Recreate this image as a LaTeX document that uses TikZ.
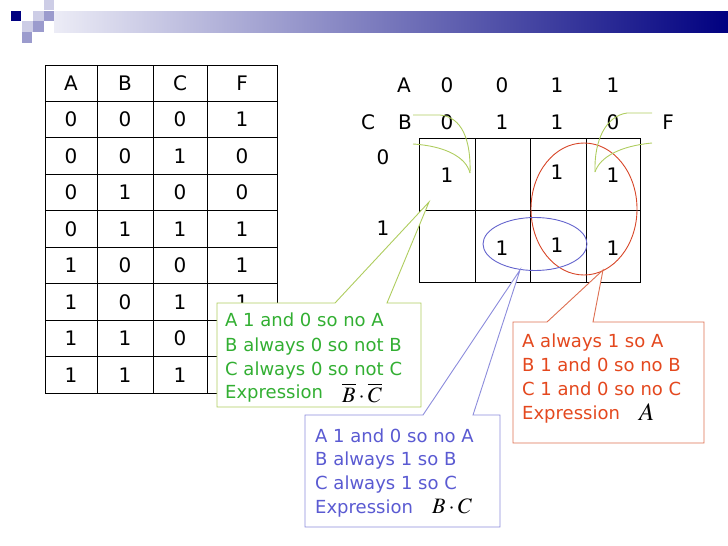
\documentclass[tikz,border=0pt]{standalone}
\usepackage{mathptmx}
\usepackage{fontspec}
\setmainfont{DejaVu Sans}
\definecolor{gtext}{RGB}{50,175,50}
\definecolor{gborder}{RGB}{175,205,95}
\definecolor{btext}{RGB}{90,90,210}
\definecolor{bborder}{RGB}{140,140,220}
\definecolor{rtext}{RGB}{228,72,30}
\definecolor{rborder}{RGB}{222,112,82}
\definecolor{rell}{RGB}{215,70,40}
\definecolor{bell}{RGB}{100,100,205}
\definecolor{navyb}{RGB}{0,0,128}
\definecolor{sqlight}{RGB}{205,205,230}
\definecolor{sqmed}{RGB}{155,155,205}
\definecolor{barlight}{RGB}{236,236,246}
\begin{document}
\begin{tikzpicture}[x=1pt,y=-1pt,
  big/.style={font=\fontsize{20}{24}\selectfont,inner sep=0pt,anchor=center},
  note/.style={font=\fontsize{18}{24}\selectfont,inner sep=0pt,anchor=base west},
  mth/.style={font=\fontsize{22}{24}\selectfont,inner sep=0pt,anchor=base west,text height=14pt,text depth=0pt},
  grid/.style={draw=black,line width=0.9pt},
  gcurve/.style={draw=gborder,line width=0.9pt},
  callout/.style={fill=white,line width=0.9pt,line join=miter}]
\useasboundingbox (0,0) rectangle (728,546);
% header decoration
\shade[left color=barlight,right color=navyb] (54,11) rectangle (728,32);
\fill[sqlight] (44,0) rectangle (54,10);
\fill[navyb] (11,11) rectangle (21,21);
\fill[sqlight] (33,11) rectangle (44,21);
\fill[sqmed] (44,11) rectangle (54,21);
\fill[sqlight] (22,21) rectangle (33,32);
\fill[sqmed] (33,21) rectangle (44,32);
\fill[sqmed] (22,32) rectangle (32,43);
% truth table
\draw[grid] (45,65) rectangle (277,393);
\foreach \xx in {97,153,207} \draw[grid] (\xx,65) -- (\xx,393);
\foreach \i in {1,...,8} \draw[grid] (45,{65+36.44*\i}) -- (277,{65+36.44*\i});
\foreach \r/\a/\b/\c/\f in {0/A/B/C/F,1/0/0/0/1,2/0/0/1/0,3/0/1/0/0,4/0/1/1/1,5/1/0/0/1,6/1/0/1/1}{
  \node[big] (ta\r) at (71,{83.2+36.44*\r}) {\a};
  \node[big] (tb\r) at (125,{83.2+36.44*\r}) {\b};
  \node[big] (tc\r) at (180,{83.2+36.44*\r}) {\c};
  \node[big] (tf\r) at (242,{83.2+36.44*\r}) {\f};
}
\foreach \r/\a/\b/\c in {7/1/1/0,8/1/1/1}{
  \node[big] (ta\r) at (71,{83.2+36.44*\r}) {\a};
  \node[big] (tb\r) at (125,{83.2+36.44*\r}) {\b};
  \node[big] (tc\r) at (180,{83.2+36.44*\r}) {\c};
}
% K-map
\draw[grid] (419,138) rectangle (640,282);
\foreach \xx in {475,530,586} \draw[grid] (\xx,138) -- (\xx,282);
\draw[grid] (419,210) -- (640,210);
\node[big] (hA) at (404,85) {A};
\node[big] (a1) at (447,85) {0};
\node[big] (a2) at (502,85) {0};
\node[big] (a3) at (557,85) {1};
\node[big] (a4) at (613,85) {1};
\node[big] (hC) at (368,122) {C};
\node[big] (hB) at (405,122) {B};
\node[big] (b1) at (447,122) {0};
\node[big] (b2) at (502,122) {1};
\node[big] (b3) at (557,122) {1};
\node[big] (b4) at (613,122) {0};
\node[big] (hF) at (668,122) {F};
\node[big] (c0) at (383,157) {0};
\node[big] (c1) at (383,228) {1};
\node[big] (k1) at (447,175) {1};
\node[big] (k2) at (557,172) {1};
\node[big] (k3) at (613,175) {1};
\node[big] (k4) at (502,248) {1};
\node[big] (k5) at (557,245) {1};
\node[big] (k6) at (613,248) {1};
% groups
\draw[rell,line width=0.9pt] (584,209) ellipse [x radius=53pt,y radius=66pt];
\draw[bell,line width=0.9pt] (535,244) ellipse [x radius=52pt,y radius=26.5pt];
% green curved pointers
\coordinate (lt) at (470,173);
\coordinate (rt) at (595,172);
\draw[gcurve] (413,115) -- (440,115) .. controls (462,117) and (471,140) .. (lt);
\draw[gcurve] (413,144) .. controls (445,146) and (466,157) .. (lt);
\draw[gcurve] (652,113) -- (627,113) .. controls (606,116) and (594,140) .. (rt);
\draw[gcurve] (652,143) .. controls (620,146) and (600,157) .. (rt);
% callouts
\coordinate (gtip) at (429,202);
\coordinate (btip) at (520,270);
\coordinate (rtip) at (603,270);
\draw[callout,draw=gborder] (217,303) -- (335,303) -- (gtip) -- (387,303) -- (421,303) -- (421,407) -- (217,407) -- cycle;
\draw[callout,draw=bborder] (305,415) -- (423,415) -- (btip) -- (473,415) -- (500,415) -- (500,527) -- (305,527) -- cycle;
\draw[callout,draw=rborder] (513,322) -- (547,322) -- (rtip) -- (593,322) -- (704,322) -- (704,443) -- (513,443) -- cycle;
% green text
\node[note,text=gtext] (g1) at (225,326) {A 1 and 0 so no A};
\node[note,text=gtext] (g2) at (225,351) {B always 0 so not B};
\node[note,text=gtext] (g3) at (225,375) {C always 0 so not C};
\node[note,text=gtext] (g4) at (225,398) {Expression};
\node[mth] (gm) at (342,402) {$\overline{B}\cdot\overline{C}$};
% blue text
\node[note,text=btext] (u1) at (315,442) {A 1 and 0 so no A};
\node[note,text=btext] (u2) at (315,465) {B always 1 so B};
\node[note,text=btext] (u3) at (315,489) {C always 1 so C};
\node[note,text=btext] (u4) at (315,513) {Expression};
\node[mth] (um) at (432,513) {$B\cdot C$};
% red text
\node[note,text=rtext] (r1) at (522,347) {A always 1 so A};
\node[note,text=rtext] (r2) at (522,371) {B 1 and 0 so no B};
\node[note,text=rtext] (r3) at (522,395) {C 1 and 0 so no C};
\node[note,text=rtext] (r4) at (522,419) {Expression};
\node[mth,font=\fontsize{25}{26}\selectfont] (rm) at (639,420) {$A$};
\end{tikzpicture}
\end{document}
